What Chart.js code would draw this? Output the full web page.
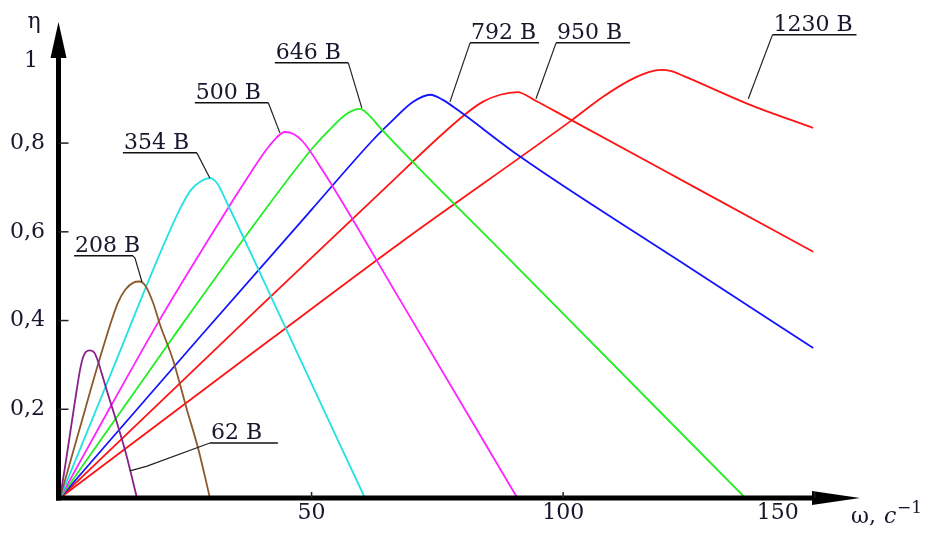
<!DOCTYPE html>
<html>
<head>
<meta charset="utf-8">
<script src="https://cdn.jsdelivr.net/npm/chart.js@4"></script>
<style>
  html, body { margin: 0; padding: 0; background: #fff; }
  #wrap { width: 941px; height: 534px; }
</style>
</head>
<body>
<div id="wrap"><canvas id="c"></canvas></div>
<script>
// ===== DATA (ω, c^-1  ->  η) =====
const w62   = [0, 1.0, 2.0, 3.0, 4.0, 4.6, 5.2, 6.0, 6.8, 7.5, 8.0, 9.5, 11.3, 13.0, 15.3];
const eta62 = [0, 0.07, 0.145, 0.22, 0.29, 0.318, 0.33, 0.333, 0.328, 0.31, 0.292, 0.235, 0.17, 0.105, 0];

const w208   = [0, 4, 8, 11.5, 13, 14.5, 15.8, 17, 18.5, 19.9, 22.5, 25.2, 27.5, 29.8];
const eta208 = [0, 0.16, 0.318, 0.44, 0.47, 0.485, 0.488, 0.478, 0.44, 0.39, 0.31, 0.2, 0.11, 0];

const w354   = [0, 10, 19.9, 24, 26, 28, 29.8, 31.2, 33.2, 39.2, 45.3, 60.6];
const eta354 = [0, 0.277, 0.552, 0.655, 0.694, 0.714, 0.721, 0.71, 0.665, 0.521, 0.372, 0];

const w500   = [0, 10, 20.5, 33.2, 38, 41, 43, 44.7, 46.5, 48.3, 52, 67.6, 90.9];
const eta500 = [0, 0.205, 0.415, 0.65, 0.735, 0.785, 0.812, 0.825, 0.82, 0.803, 0.742, 0.446, 0];

const w646   = [0, 22.5, 40, 50.3, 54, 57, 59.6, 61.5, 63.6, 88.9, 136.2];
const eta646 = [0, 0.363, 0.638, 0.79, 0.835, 0.866, 0.877, 0.862, 0.835, 0.543, 0];

const w792   = [0, 27.8, 50, 62.2, 66, 70.2, 73.6, 76, 79, 91.5, 121.9, 149.7];
const eta792 = [0, 0.363, 0.65, 0.807, 0.85, 0.893, 0.909, 0.898, 0.875, 0.769, 0.543, 0.338];

const w950   = [0, 32.8, 63.6, 80, 84, 87.5, 90.9, 94.6, 100, 127.2, 149.7];
const eta950 = [0, 0.356, 0.688, 0.86, 0.893, 0.909, 0.915, 0.895, 0.862, 0.694, 0.555];

const w1230   = [0, 41.7, 67.6, 101.4, 108, 113.3, 117, 119.5, 121.5, 124, 136.8, 149.7];
const eta1230 = [0, 0.356, 0.575, 0.849, 0.905, 0.942, 0.96, 0.965, 0.962, 0.951, 0.888, 0.834];

const seriesNames  = ["62 В", "208 В", "354 В", "500 В", "646 В", "792 В", "950 В", "1230 В"];
const seriesW      = [w62, w208, w354, w500, w646, w792, w950, w1230];
const seriesEta    = [eta62, eta208, eta354, eta500, eta646, eta792, eta950, eta1230];
const seriesColors = ["#8a208a", "#8b5a2b", "#22e2e2", "#ff22ff", "#22ee22", "#1414ff", "#ff1414", "#ff1414"];

const xTicks = [50, 100, 150];
const yTicks = [0.2, 0.4, 0.6, 0.8, 1];

// callouts: underline [ωLeft, ωRight, η] and leader path (data coords)
const calloutLine = [
  [29.8, 43.3, 0.124], [2.8, 14.5, 0.546], [12.5, 27.2, 0.778], [26.8, 41.4, 0.891],
  [42.7, 57.3, 0.981], [81.5, 95.2, 1.026], [98.6, 113.3, 1.026], [141.6, 158.3, 1.044]
];
const calloutLeader = [
  [[29.8, 0.124], [17.3, 0.072], [13.9, 0.061]],
  [[14.5, 0.546], [14.9, 0.541], [16.3, 0.487]],
  [[27.2, 0.778], [29.8, 0.721]],
  [[41.4, 0.891], [43.7, 0.823]],
  [[57.3, 0.981], [60.0, 0.879]],
  [[81.5, 1.026], [77.5, 0.893]],
  [[98.6, 1.026], [94.6, 0.90]],
  [[141.6, 1.044], [136.8, 0.90]]
];

const FONT = '"DejaVu Serif", serif';
const TXT = "#16162c";

// ===== AXES / LABELS =====
const axesPlugin = {
  id: "axesPlugin",
  afterDatasetsDraw(chart) {
    const { ctx, scales: { x, y } } = chart;
    const x0 = x.getPixelForValue(0);
    const y0 = y.getPixelForValue(0);
    const ax = x0 - 1.5;
    const xEnd = x.right;
    const yTop = y.top;

    ctx.save();

    // callouts
    ctx.lineWidth = 1.2;
    ctx.strokeStyle = "#222";
    calloutLeader.forEach(path => {
      ctx.beginPath();
      path.forEach((p, i) => {
        const px = x.getPixelForValue(p[0]), py = y.getPixelForValue(p[1]);
        i ? ctx.lineTo(px, py) : ctx.moveTo(px, py);
      });
      ctx.stroke();
    });
    ctx.lineWidth = 1.5;
    ctx.strokeStyle = "#111";
    ctx.font = "22px " + FONT;
    ctx.textAlign = "left";
    ctx.textBaseline = "alphabetic";
    calloutLine.forEach((u, i) => {
      const l = x.getPixelForValue(u[0]), r = x.getPixelForValue(u[1]), py = y.getPixelForValue(u[2]);
      ctx.beginPath();
      ctx.moveTo(l, py);
      ctx.lineTo(r, py);
      ctx.stroke();
      ctx.fillStyle = TXT;
      ctx.fillText(seriesNames[i], l + 1, py - 4);
    });

    // axis lines
    ctx.strokeStyle = "#000";
    ctx.fillStyle = "#000";
    ctx.lineWidth = 5;
    ctx.beginPath();
    ctx.moveTo(ax, y0 + 2.5);
    ctx.lineTo(ax, 57);
    ctx.stroke();
    ctx.beginPath();
    ctx.moveTo(ax - 2.5, y0);
    ctx.lineTo(815, y0);
    ctx.stroke();

    // arrows
    ctx.beginPath();
    ctx.moveTo(ax, yTop);
    ctx.lineTo(ax - 8, 58);
    ctx.lineTo(ax + 8, 58);
    ctx.closePath();
    ctx.fill();
    ctx.beginPath();
    ctx.moveTo(xEnd, y0);
    ctx.lineTo(812, y0 - 7);
    ctx.lineTo(812, y0 + 7);
    ctx.closePath();
    ctx.fill();

    // ticks
    ctx.lineWidth = 1.5;
    ctx.strokeStyle = "#222";
    yTicks.forEach(v => {
      const py = y.getPixelForValue(v);
      if (v === 1) return;
      ctx.beginPath();
      ctx.moveTo(ax, py);
      ctx.lineTo(ax + 10, py);
      ctx.stroke();
    });
    xTicks.forEach(v => {
      const px = x.getPixelForValue(v);
      ctx.beginPath();
      ctx.moveTo(px, y0);
      ctx.lineTo(px, y0 - 6);
      ctx.stroke();
    });

    // tick labels
    ctx.fillStyle = TXT;
    ctx.font = "22px " + FONT;
    ctx.textBaseline = "middle";
    ctx.textAlign = "right";
    yTicks.forEach(v => {
      const py = y.getPixelForValue(v);
      const txt = String(v).replace(".", ",");
      ctx.fillText(txt, v === 1 ? 38 : 45, v === 1 ? py + 7 : py);
    });
    ctx.textAlign = "center";
    xTicks.forEach(v => {
      const px = x.getPixelForValue(v);
      ctx.fillText(String(v), v === 150 ? px - 37 : px, y0 + 15);
    });

    // axis titles
    ctx.textAlign = "center";
    ctx.textBaseline = "alphabetic";
    ctx.fillText("η", 34, 28);
    ctx.textAlign = "left";
    ctx.fillText("ω,", 851, 523);
    ctx.font = "italic 22px " + FONT;
    ctx.fillText("с", 884, 523);
    ctx.font = "17px " + FONT;
    ctx.fillText("−1", 897, 513);
    ctx.restore();
  }
};

const datasets = seriesNames.map((name, i) => ({
  label: name,
  data: seriesW[i].map((w, k) => ({ x: w, y: seriesEta[i][k] })),
  borderColor: seriesColors[i],
  borderWidth: 1.8,
  pointRadius: 0,
  fill: false,
  cubicInterpolationMode: "monotone"
}));

new Chart(document.getElementById("c"), {
  type: "line",
  data: { datasets },
  options: {
    responsive: true,
    maintainAspectRatio: false,
    animation: false,
    devicePixelRatio: 1,
    layout: { padding: { left: 60, right: 81, top: 22, bottom: 36 } },
    plugins: { legend: { display: false }, tooltip: { enabled: false } },
    scales: {
      x: { type: "linear", min: 0, max: 159, display: false },
      y: { type: "linear", min: 0, max: 1.073, display: false }
    }
  },
  plugins: [axesPlugin]
});
</script>
</body>
</html>
